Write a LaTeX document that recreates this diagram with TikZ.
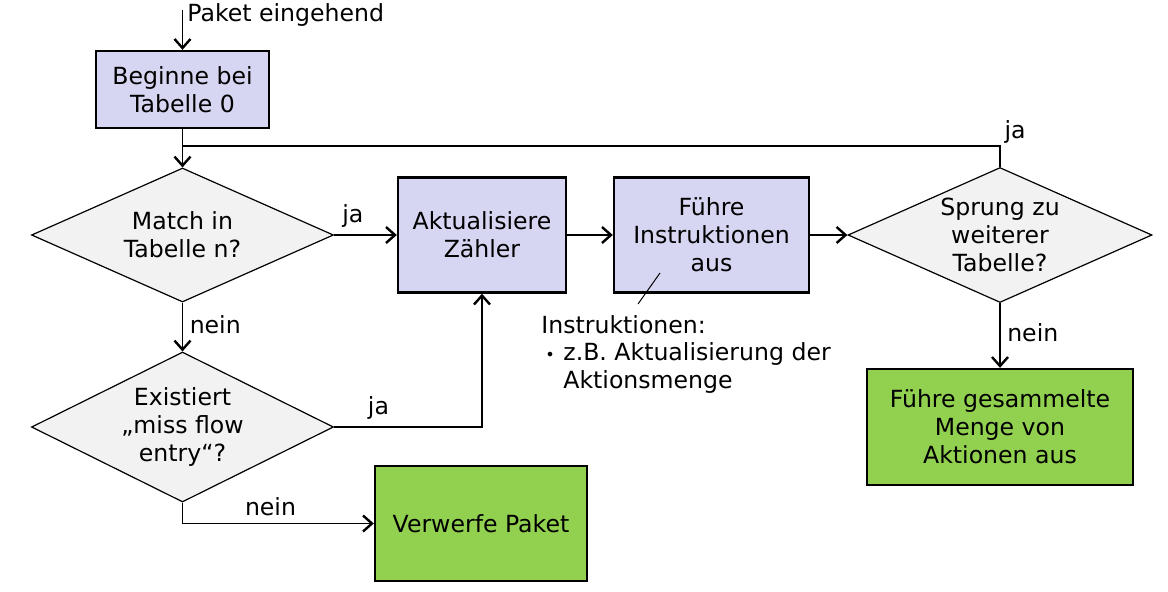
\documentclass[tikz,border=0pt]{standalone}
\usepackage{fontspec}
\setmainfont{DejaVu Sans}
\usetikzlibrary{shapes.geometric,arrows.meta}

\definecolor{boxblau}{RGB}{214,214,242}
\definecolor{rautegrau}{RGB}{242,242,242}
\definecolor{gruen}{RGB}{146,208,80}

\tikzset{
  kasten/.style={draw, line width=1.2pt, fill=boxblau, align=center, inner sep=2pt},
  ende/.style={kasten, fill=gruen},
  raute/.style={draw, diamond, line width=0.6pt, fill=rautegrau, align=center, inner sep=0pt, aspect=2.2},
  pfeil/.style={line width=0.6pt, -{Straight Barb[length=4.5pt,width=8pt,line width=1.2pt]}},
  linie/.style={line width=0.6pt}
}

\begin{document}
\begin{tikzpicture}[x=0.5pt, y=-0.5pt, font=\fontsize{11.8}{14}\selectfont]
        \useasboundingbox (0,0) rectangle (1168,591);

        % Kaesten
        \node[kasten, minimum width=86.5pt, minimum height=38.5pt] (start) at (182.5,89.5) {Beginne bei\\Tabelle 0};
        \node[kasten, minimum width=84pt, minimum height=57.5pt] (zaehler) at (482,235) {Aktualisiere\\Zähler};
        \node[kasten, minimum width=97.5pt, minimum height=57.5pt] (instr) at (711.5,235) {Führe\\Instruktionen\\aus};
        \node[ende, minimum width=106pt, minimum height=57.5pt] (verwerfen) at (481,523.5) {Verwerfe Paket};
        \node[ende, minimum width=133pt, minimum height=58pt] (ausfuehren) at (1000,427) {Führe gesammelte\\Menge von\\Aktionen aus};

        % Rauten
        \node[raute, minimum width=151pt, minimum height=67pt] (match) at (182.5,235) {Match in\\Tabelle n?};
        \node[raute, minimum width=151pt, minimum height=75pt] (miss) at (182.5,427) {Existiert\\„miss flow\\entry“?};
        \node[raute, minimum width=152pt, minimum height=67.5pt] (sprung) at (1000,235) {Sprung zu\\weiterer\\Tabelle?};

        % Eingang
        \coordinate (quelle) at (182.5,10);
        \node[anchor=west, inner sep=0pt] (eingang) at (187,15) {Paket eingehend};
        \draw[pfeil] (quelle) -- (start.north);

        % Verbindungen
        \coordinate (treffpunkt) at (182.5,146);
        \draw[pfeil] (start.south) -- (match.north);
        \draw[linie] (sprung.north) |- (treffpunkt) node[pos=0.5, above right, inner sep=1pt, xshift=1pt] {ja};
        \draw[pfeil] (match.east) -- (zaehler.west) node[pos=0.3, above] {ja};
        \draw[pfeil] (zaehler.east) -- (instr.west);
        \draw[pfeil] (instr.east) -- (sprung.west);
        \draw[pfeil] (sprung.south) -- (ausfuehren.north) node[pos=0.45, right] {nein};
        \draw[pfeil] (match.south) -- (miss.north) node[pos=0.45, right] {nein};
        \draw[pfeil] (miss.east) -| (zaehler.south) node[pos=0.15, above] {ja};
        \draw[pfeil] (miss.south) |- (verwerfen.west) node[pos=0.73, above] {nein};

        % Hinweis
        \coordinate (zeigerA) at (660,273);
        \coordinate (zeigerB) at (638,304);
        \draw[line width=0.5pt] (zeigerA) -- (zeigerB);
        \node[anchor=north west, align=left, inner sep=0pt, font=\fontsize{11.8}{13.7}\selectfont] (hinweis) at (541,315)
            {Instruktionen:\\\makebox[11pt][l]{\,{\footnotesize\textbullet}}z.B. Aktualisierung der\\\hspace*{11pt}Aktionsmenge};
    \end{tikzpicture}
\end{document}
